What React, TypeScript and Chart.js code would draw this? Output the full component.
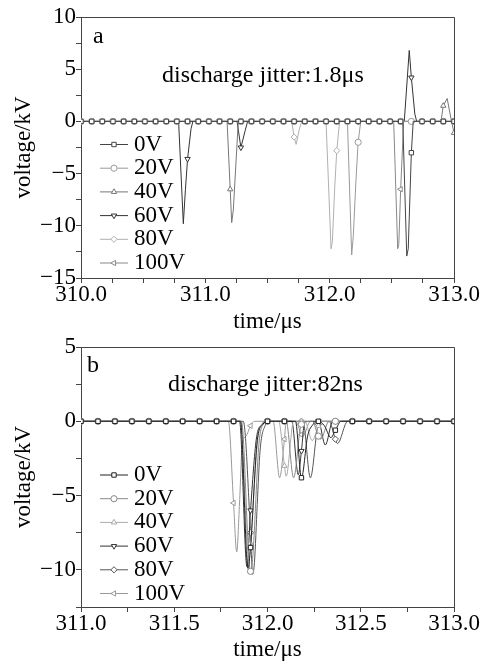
import React, { useEffect, useRef } from 'react';
import { Chart, registerables } from 'chart.js';
import { drawPoint } from 'chart.js/helpers';

Chart.register(...registerables);

type Pt = [number, number];

const seriesNames = ['0V', '20V', '40V', '60V', '80V', '100V'];

// ---------- panel a ----------
const xTicksA = [310.0, 311.0, 312.0, 313.0];
const yTicksA = [10, 5, 0, -5, -10, -15];

const a0V: Pt[] = [[310.000,0],[310.086,0],[310.171,0],[310.257,0],[310.343,0],[310.429,0],[310.514,0],[310.600,0],[310.686,0],[310.771,0],[310.857,0],[310.943,0],[311.029,0],[311.114,0],[311.200,0],[311.286,0],[311.371,0],[311.457,0],[311.543,0],[311.629,0],[311.714,0],[311.800,0],[311.886,0],[311.971,0],[312.057,0],[312.143,0],[312.229,0],[312.314,0],[312.400,0],[312.486,0],[312.571,0],[312.588,0],[312.620,-12.9],[312.632,-12.2],[312.657,-3.0],[312.672,0],[312.743,0],[312.829,0],[312.914,0],[313.000,0]];
const a20V: Pt[] = [[310.000,0],[310.086,0],[310.171,0],[310.257,0],[310.343,0],[310.429,0],[310.514,0],[310.600,0],[310.686,0],[310.771,0],[310.857,0],[310.943,0],[311.029,0],[311.114,0],[311.200,0],[311.286,0],[311.371,0],[311.457,0],[311.543,0],[311.629,0],[311.714,0],[311.800,0],[311.886,0],[311.971,0],[312.057,0],[312.143,0],[312.177,-12.8],[312.190,-11.0],[312.210,-6.0],[312.229,-2.0],[312.250,0],[312.314,0],[312.400,0],[312.486,0],[312.571,0],[312.657,0],[312.743,0],[312.829,0],[312.914,0],[313.000,0]];
const a40V: Pt[] = [[310.000,0],[310.086,0],[310.171,0],[310.257,0],[310.343,0],[310.429,0],[310.514,0],[310.600,0],[310.686,0],[310.771,0],[310.857,0],[310.943,0],[311.029,0],[311.114,0],[311.175,0],[311.200,-6.5],[311.212,-9.7],[311.225,-8.5],[311.265,0],[311.286,0],[311.371,0],[311.457,0],[311.543,0],[311.629,0],[311.714,0],[311.800,0],[311.886,0],[311.971,0],[312.057,0],[312.143,0],[312.229,0],[312.314,0],[312.400,0],[312.486,0],[312.571,0],[312.657,0],[312.743,0],[312.829,0],[312.895,0],[312.914,1.5],[312.945,2.2],[312.975,0.3],[313.000,-1.1]];
const a60V: Pt[] = [[310.000,0],[310.086,0],[310.171,0],[310.257,0],[310.343,0],[310.429,0],[310.514,0],[310.600,0],[310.686,0],[310.771,0],[310.785,0],[310.823,-9.8],[310.840,-6.5],[310.857,-3.6],[310.885,-0.7],[310.900,0],[310.943,0],[311.029,0],[311.114,0],[311.200,0],[311.255,0],[311.286,-2.5],[311.320,-0.9],[311.340,0],[311.371,0],[311.457,0],[311.543,0],[311.629,0],[311.714,0],[311.800,0],[311.886,0],[311.971,0],[312.057,0],[312.143,0],[312.229,0],[312.314,0],[312.400,0],[312.486,0],[312.571,0],[312.600,0],[312.640,6.8],[312.657,4.2],[312.685,0.7],[312.700,0],[312.743,0],[312.829,0],[312.914,0],[313.000,0]];
const a80V: Pt[] = [[310.000,0],[310.086,0],[310.171,0],[310.257,0],[310.343,0],[310.429,0],[310.514,0],[310.600,0],[310.686,0],[310.771,0],[310.857,0],[310.943,0],[311.029,0],[311.114,0],[311.200,0],[311.286,0],[311.371,0],[311.457,0],[311.543,0],[311.629,0],[311.695,0],[311.714,-1.5],[311.730,-2.2],[311.755,-0.8],[311.775,0],[311.800,0],[311.886,0],[311.971,0],[312.011,-12.2],[312.022,-11.5],[312.040,-6.5],[312.057,-2.8],[312.080,0],[312.143,0],[312.229,0],[312.314,0],[312.400,0],[312.486,0],[312.571,0],[312.657,0],[312.743,0],[312.829,0],[312.914,0],[313.000,0]];
const a100V: Pt[] = [[310.000,0],[310.086,0],[310.171,0],[310.257,0],[310.343,0],[310.429,0],[310.514,0],[310.600,0],[310.686,0],[310.771,0],[310.857,0],[310.943,0],[311.029,0],[311.114,0],[311.200,0],[311.286,0],[311.371,0],[311.457,0],[311.543,0],[311.629,0],[311.714,0],[311.800,0],[311.886,0],[311.971,0],[312.057,0],[312.143,0],[312.229,0],[312.314,0],[312.400,0],[312.486,0],[312.515,0],[312.547,-12.2],[312.556,-11.8],[312.571,-6.5],[312.595,0],[312.657,0],[312.743,0],[312.829,0],[312.914,0],[313.000,0]];

// ---------- panel b ----------
const xTicksB = [311.0, 311.5, 312.0, 312.5, 313.0];
const yTicksB = [5, 0, -5, -10];

const b0V: Pt[] = [[311.000,0],[311.091,0],[311.182,0],[311.273,0],[311.364,0],[311.455,0],[311.545,0],[311.636,0],[311.727,0],[311.818,0],[311.855,0],[311.895,-9.9],[311.909,-8.5],[311.945,-1.3],[311.975,-0.2],[312.000,0],[312.091,0],[312.150,0],[312.182,-3.8],[312.215,-1.0],[312.245,-0.2],[312.273,0],[312.305,-0.3],[312.340,-1.1],[312.364,-0.6],[312.395,0],[312.455,0],[312.545,0],[312.636,0],[312.727,0],[312.818,0],[312.909,0],[313.000,0]];
const b20V: Pt[] = [[311.000,0],[311.091,0],[311.182,0],[311.273,0],[311.364,0],[311.455,0],[311.545,0],[311.636,0],[311.727,0],[311.818,0],[311.860,0],[311.909,-10.1],[311.920,-9.3],[311.955,-1.4],[311.985,-0.1],[312.000,0],[312.091,0],[312.100,0],[312.140,-3.8],[312.182,-0.2],[312.240,0],[312.273,-1.0],[312.285,-1.2],[312.330,0],[312.364,0],[312.455,0],[312.545,0],[312.636,0],[312.727,0],[312.818,0],[312.909,0],[313.000,0]];
const b40V: Pt[] = [[311.000,0],[311.091,0],[311.182,0],[311.273,0],[311.364,0],[311.455,0],[311.545,0],[311.636,0],[311.727,0],[311.818,0],[311.855,0],[311.900,-9.4],[311.909,-8.2],[311.950,-1.0],[311.980,-0.1],[312.000,0],[312.060,0],[312.091,-3.0],[312.100,-3.7],[312.140,0],[312.182,0],[312.200,0],[312.240,-1.3],[312.273,-0.3],[312.290,0],[312.364,0],[312.455,0],[312.545,0],[312.636,0],[312.727,0],[312.818,0],[312.909,0],[313.000,0]];
const b60V: Pt[] = [[311.000,0],[311.091,0],[311.182,0],[311.273,0],[311.364,0],[311.455,0],[311.545,0],[311.636,0],[311.727,0],[311.818,0],[311.850,0],[311.890,-9.8],[311.909,-6.0],[311.940,-1.2],[311.970,-0.2],[312.000,0],[312.091,0],[312.130,0],[312.165,-3.6],[312.182,-2.0],[312.200,0],[312.273,0],[312.310,-1.6],[312.350,0],[312.364,0],[312.455,0],[312.545,0],[312.636,0],[312.727,0],[312.818,0],[312.909,0],[313.000,0]];
const b80V: Pt[] = [[311.000,0],[311.091,0],[311.182,0],[311.273,0],[311.364,0],[311.455,0],[311.545,0],[311.636,0],[311.727,0],[311.818,0],[311.870,0],[311.909,-7.5],[311.920,-10.3],[311.930,-9.5],[311.945,-5.6],[311.960,-2.0],[311.990,-0.2],[312.000,0],[312.091,0],[312.182,0],[312.190,0],[312.230,-3.8],[312.273,-0.2],[312.300,0],[312.330,0],[312.364,-1.2],[312.375,-1.5],[312.430,0],[312.455,0],[312.545,0],[312.636,0],[312.727,0],[312.818,0],[312.909,0],[313.000,0]];
const b100V: Pt[] = [[311.000,0],[311.091,0],[311.182,0],[311.273,0],[311.364,0],[311.455,0],[311.545,0],[311.636,0],[311.727,0],[311.790,0],[311.818,-5.5],[311.835,-8.8],[311.850,-5.5],[311.865,-1.5],[311.885,-1.0],[311.909,-0.3],[311.930,0],[312.000,0],[312.030,0],[312.065,-3.8],[312.091,-1.2],[312.100,0],[312.150,0],[312.182,-0.9],[312.190,-1.0],[312.230,0],[312.273,0],[312.364,0],[312.455,0],[312.545,0],[312.636,0],[312.727,0],[312.818,0],[312.909,0],[313.000,0]];

// ---------- styles ----------
const FONT = "'Liberation Serif', 'Times New Roman', Times, serif";
const AXIS = '#444';
const pointStyles = ['rect', 'circle', 'triangle', 'triangle', 'rectRot', 'triangle'];
const pointRotations = [0, 0, 0, 180, 0, 270];
const colorsA = ['#444', '#999', '#777', '#333', '#b0b0b0', '#888'];
const colorsB = ['#222', '#888', '#aaa', '#333', '#555', '#999'];

type Panel = {
  series: Pt[][];
  colors: string[];
  xMin: number; xMax: number; xLabels: number[];
  yMin: number; yMax: number; yLabels: number[];
  markStart: number; markStep: number;
  smooth: boolean;
  letter: string; letterDx: number; letterDy: number;
  note: string; noteDx: number; noteDy: number;
  legendDy: number;
  top: number; height: number; padTop: number; xAxisH: number;
};

const panelA: Panel = {
  series: [a0V, a20V, a40V, a60V, a80V, a100V],
  colors: colorsA,
  xMin: 310, xMax: 313, xLabels: xTicksA,
  yMin: -15, yMax: 10, yLabels: yTicksA,
  markStart: 310, markStep: 3 / 35,
  smooth: false,
  letter: 'a', letterDx: 12, letterDy: 26,
  note: 'discharge jitter:1.8\u03bcs', noteDx: 81, noteDy: 65,
  legendDy: 127.5,
  top: 0, height: 333, padTop: 17, xAxisH: 55,
};

const panelB: Panel = {
  series: [b0V, b20V, b40V, b60V, b80V, b100V],
  colors: colorsB,
  xMin: 311, xMax: 313, xLabels: xTicksB,
  yMin: -12.5, yMax: 5, yLabels: yTicksB,
  markStart: 311, markStep: 1 / 11,
  smooth: true,
  letter: 'b', letterDx: 6, letterDy: 25,
  note: 'discharge jitter:82ns', noteDx: 87, noteDy: 44,
  legendDy: 128,
  top: 333, height: 328, padTop: 14, xAxisH: 54,
};

const fmtY = (v: number) => (v < 0 ? '\u2212' + Math.abs(v) : String(v));

function buildConfig(p: Panel): any {
  const onGrid = (x: number) => {
    const k = (x - p.markStart) / p.markStep;
    return Math.abs(k - Math.round(k)) < 0.012;
  };
  const datasets = p.series.map((pts, i) => ({
    label: seriesNames[i],
    data: pts.map(([x, y]) => ({ x, y })),
    borderColor: p.colors[i],
    borderWidth: 1,
    backgroundColor: '#fff',
    pointStyle: pointStyles[i],
    pointRotation: pointRotations[i],
    pointRadius: (c: any) => (c.raw && onGrid(c.raw.x) ? 3.1 : 0),
    pointHoverRadius: 0,
    pointBackgroundColor: '#fff',
    pointBorderColor: p.colors[i],
    pointBorderWidth: 1,
    tension: 0,
    cubicInterpolationMode: p.smooth ? 'monotone' : 'default',
    fill: false,
  }));

  const decor = {
    id: 'decor',
    afterDatasetsDraw(chart: any) {
      const { ctx, chartArea: a } = chart;
      ctx.save();
      ctx.strokeStyle = AXIS;
      ctx.lineWidth = 1;
      ctx.beginPath();
      const t = Math.floor(a.top) + 0.5;
      const r = Math.floor(a.right) + 0.5;
      ctx.moveTo(Math.floor(a.left) + 0.5, t);
      ctx.lineTo(r, t);
      ctx.lineTo(r, Math.floor(a.bottom) + 0.5);
      ctx.stroke();
      ctx.fillStyle = '#000';
      ctx.font = `24px ${FONT}`;
      ctx.textAlign = 'left';
      ctx.textBaseline = 'alphabetic';
      ctx.fillText(p.letter, a.left + p.letterDx, a.top + p.letterDy);
      ctx.fillText(p.note, a.left + p.noteDx, a.top + p.noteDy);
      chart.data.datasets.forEach((ds: any, i: number) => {
        const y = a.top + p.legendDy + i * 23.7;
        ctx.strokeStyle = ds.borderColor;
        ctx.lineWidth = 1;
        ctx.beginPath();
        ctx.moveTo(a.left + 19, y);
        ctx.lineTo(a.left + 47, y);
        ctx.stroke();
        ctx.fillStyle = '#fff';
        drawPoint(ctx, { pointStyle: ds.pointStyle, rotation: ds.pointRotation, radius: 3.1, borderWidth: 1 } as any, a.left + 33, y);
        ctx.fillStyle = '#000';
        ctx.font = `23px ${FONT}`;
        ctx.textBaseline = 'middle';
        ctx.fillText(ds.label, a.left + 53, y);
      });
      ctx.restore();
    },
  };

  const tickFont = { family: FONT, size: 23, lineHeight: 1 };

  return {
    type: 'line',
    data: { datasets },
    plugins: [decor],
    options: {
      responsive: false,
      animation: false,
      devicePixelRatio: 1,
      events: [],
      layout: { padding: { left: 0, right: 31, top: p.padTop, bottom: 0 } },
      plugins: { legend: { display: false }, tooltip: { enabled: false }, title: { display: false } },
      scales: {
        x: {
          type: 'linear',
          min: p.xMin,
          max: p.xMax,
          afterFit: (s: any) => { s.height = p.xAxisH; },
          grid: { drawOnChartArea: false, drawTicks: true, tickLength: 5, color: AXIS, lineWidth: 1 },
          border: { display: true, color: AXIS, width: 1 },
          ticks: {
            stepSize: 0.25,
            autoSkip: false,
            maxRotation: 0,
            padding: 0,
            color: '#000',
            font: tickFont,
            callback: (v: any) => (p.xLabels.some((t) => Math.abs(t - v) < 1e-6) ? Number(v).toFixed(1) : ''),
          },
          title: { display: true, text: 'time/\u03bcs', color: '#000', font: tickFont, padding: { top: 0, bottom: 0 } },
        },
        y: {
          type: 'linear',
          min: p.yMin,
          max: p.yMax,
          afterFit: (s: any) => { s.width = 81; },
          grid: { drawOnChartArea: false, drawTicks: true, tickLength: 5, color: AXIS, lineWidth: 1 },
          border: { display: true, color: AXIS, width: 1 },
          ticks: {
            stepSize: 2.5,
            autoSkip: false,
            padding: 0,
            color: '#000',
            font: tickFont,
            callback: (v: any) => (p.yLabels.some((t) => Math.abs(t - v) < 1e-6) ? fmtY(Number(v)) : ''),
          },
          title: { display: true, text: 'voltage/kV', color: '#000', font: tickFont, padding: { top: 12.5, bottom: 0 } },
        },
      },
    },
  };
}

function PanelChart({ panel }: { panel: Panel }) {
  const ref = useRef<HTMLCanvasElement>(null);
  useEffect(() => {
    const chart = new Chart(ref.current as HTMLCanvasElement, buildConfig(panel));
    return () => chart.destroy();
  }, [panel]);
  return (
    <canvas
      ref={ref}
      width={485}
      height={panel.height}
      style={{ position: 'absolute', left: 0, top: panel.top, width: 485, height: panel.height, display: 'block' }}
    />
  );
}

export default function App() {
  return (
    <div style={{ position: 'fixed', left: 0, top: 0, width: 485, height: 661, background: '#fff' }}>
      <PanelChart panel={panelA} />
      <PanelChart panel={panelB} />
    </div>
  );
}
